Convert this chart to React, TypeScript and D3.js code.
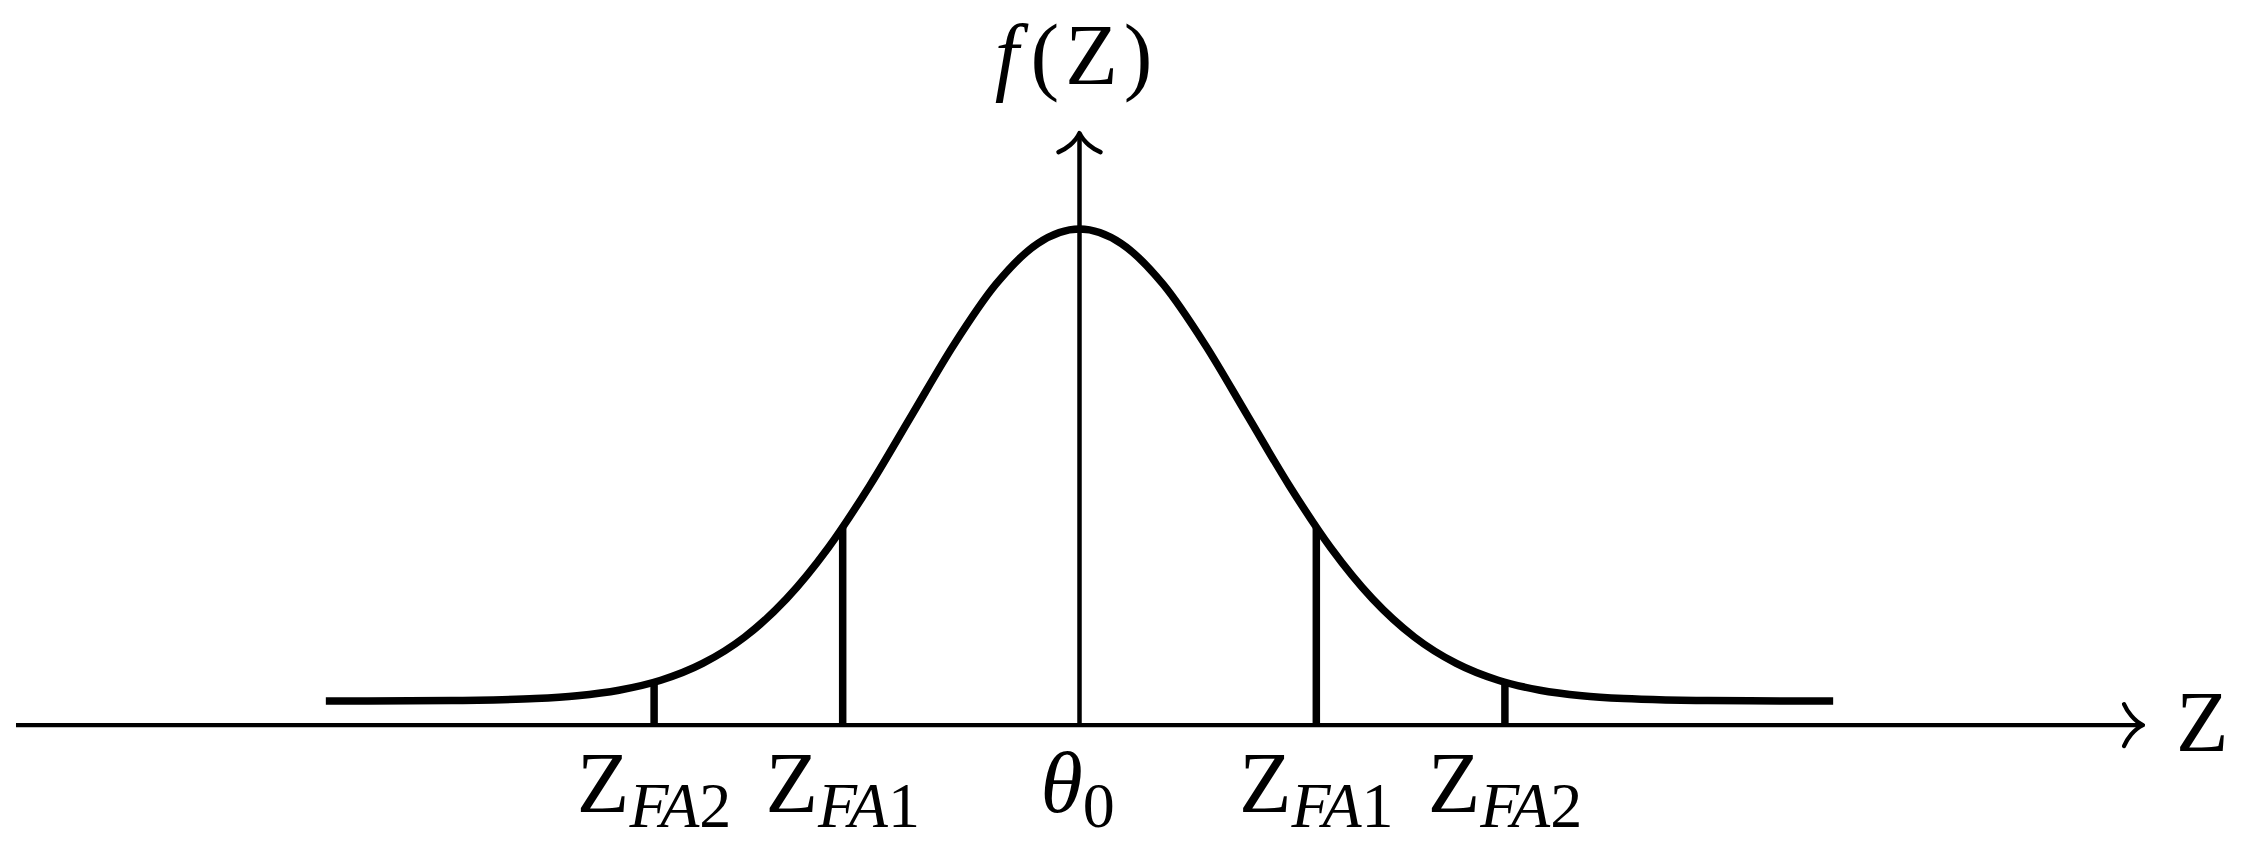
import React from 'react';
import * as d3 from 'd3';

// Standardised Z (in sigma units) and the density (peak = 1)
const zValues = [
  -4.5, -4.25, -4, -3.75, -3.5, -3.25, -3, -2.75, -2.5, -2.25, -2, -1.75, -1.5, -1.25, -1, -0.75, -0.5, -0.25,
  0,
  0.25, 0.5, 0.75, 1, 1.25, 1.5, 1.75, 2, 2.25, 2.5, 2.75, 3, 3.25, 3.5, 3.75, 4, 4.25, 4.5,
];
const densityValues = [
  0, 0.0001, 0.0003, 0.0009, 0.0022, 0.0051, 0.0111, 0.0228, 0.0439, 0.0796, 0.1353, 0.2163, 0.3247, 0.4578, 0.6065, 0.7548, 0.8825, 0.9692,
  1,
  0.9692, 0.8825, 0.7548, 0.6065, 0.4578, 0.3247, 0.2163, 0.1353, 0.0796, 0.0439, 0.0228, 0.0111, 0.0051, 0.0022, 0.0009, 0.0003, 0.0001, 0,
];

// thresholds marked on the axis
const thresholdZ = [-2.54, -1.414, 1.414, 2.54];
const thresholdHeight = [0.036, 0.367, 0.367, 0.036];
const thresholdMain = ['Z', 'Z', 'Z', 'Z'];
const thresholdSubItalic = ['FA', 'FA', 'FA', 'FA'];
const thresholdSubDigit = ['2', '1', '1', '2'];

const zDomain = [-6.35, 6.35];
const axisLevel = -0.051; // the horizontal axis sits a bit below the curve's tails
const yAxisTop = 1.203;

const W = 2242;
const H = 846;
const FONT = '"Liberation Serif", "Times New Roman", serif';
const BIG = 86;
const SMALL = 64;

export default function App() {
  const x = d3.scaleLinear().domain(zDomain).range([16, 2143]);
  const y = d3.scaleLinear().domain([0, 1]).range([701, 229]);

  const pts = zValues.map((z, i) => ({ z, f: densityValues[i] }));
  const line = d3.line<{ z: number; f: number }>().x(d => x(d.z)).y(d => y(d.f)).curve(d3.curveMonotoneX);

  const axisY = y(axisLevel);
  const x0 = x(0);
  const xEnd = x(zDomain[1]);
  const yTop = y(yAxisTop);

  // TikZ style "to" arrow head, tip at origin pointing up
  const head = 'M-21,19 C-14,16 -4,9 0,0 C4,9 14,16 21,19';

  return (
    <svg width={W} height={H} style={{ position: 'absolute', left: 0, top: 0, background: '#fff' }}>
      {/* horizontal axis */}
      <line x1={x(zDomain[0])} x2={xEnd - 1} y1={axisY} y2={axisY} stroke="#000" strokeWidth={4.2} />
      <path d={head} transform={`translate(${xEnd},${axisY}) rotate(90)`} fill="none" stroke="#000" strokeWidth={4.2} strokeLinecap="round" strokeLinejoin="round" />
      <text x={2176} y={751} fontFamily={FONT} fontSize={BIG}>Z</text>

      {/* vertical axis */}
      <line x1={x0} x2={x0} y1={axisY} y2={yTop + 1} stroke="#000" strokeWidth={4.5} />
      <path d={head} transform={`translate(${x0},${yTop})`} fill="none" stroke="#000" strokeWidth={4.5} strokeLinecap="round" strokeLinejoin="round" />
      <text x={x0 - 6} y={84} fontFamily={FONT} fontSize={BIG} textAnchor="middle">
        <tspan fontStyle="italic">f</tspan>
        <tspan dx={12}>(</tspan>
        <tspan dx={6}>Z</tspan>
        <tspan dx={6}>)</tspan>
      </text>

      {/* density curve */}
      <path d={line(pts) || ''} fill="none" stroke="#000" strokeWidth={7.5} strokeLinecap="butt" />

      {/* threshold lines and labels */}
      {thresholdZ.map((z, i) => (
        <g key={i}>
          <line x1={x(z)} x2={x(z)} y1={axisY} y2={y(thresholdHeight[i])} stroke="#000" strokeWidth={7.5} />
          <text x={x(z)} y={812} fontFamily={FONT} fontSize={BIG} textAnchor="middle">
            <tspan>{thresholdMain[i]}</tspan>
            <tspan fontStyle="italic" fontSize={SMALL} dy={15}>{thresholdSubItalic[i]}</tspan>
            <tspan fontSize={SMALL}>{thresholdSubDigit[i]}</tspan>
          </text>
        </g>
      ))}

      {/* centre label */}
      <text x={x0 - 2} y={812} fontFamily={FONT} fontSize={BIG} textAnchor="middle">
        <tspan fontStyle="italic">θ</tspan>
        <tspan fontSize={SMALL} dy={15}>0</tspan>
      </text>
    </svg>
  );
}
